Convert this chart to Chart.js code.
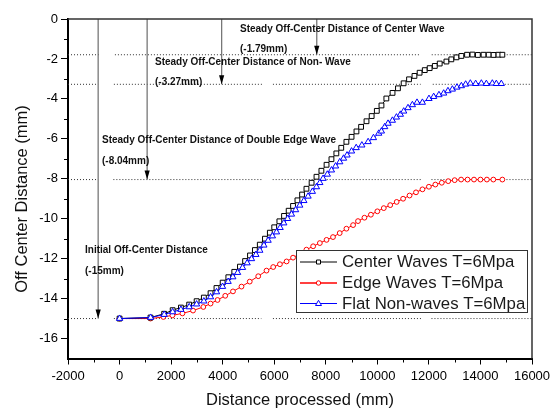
<!DOCTYPE html>
<html>
<head>
<meta charset="utf-8">
<script src="https://cdn.jsdelivr.net/npm/chart.js@4.4.1/dist/chart.umd.min.js"></script>
<style>
  html, body { margin: 0; padding: 0; background: #fff; }
  #wrap { width: 550px; height: 408px; }
</style>
</head>
<body>
<div id="wrap"><canvas id="chart" width="550" height="408"></canvas></div>
<script>
// values: x = distance processed (mm), y = off-centre distance (mm)
const centerX = [0, 1200, 1730, 2060, 2380, 2700, 2990, 3270, 3530, 3760, 4000, 4220, 4450, 4670, 4870, 5060, 5250, 5440, 5640, 5830, 6000, 6200, 6380, 6560, 6730, 6900, 7080, 7250, 7450, 7640, 7830, 8030, 8220, 8410, 8600, 8800, 9000, 9190, 9370, 9580, 9780, 9980, 10160, 10350, 10590, 10800, 11020, 11230, 11440, 11640, 11840, 12030, 12230, 12420, 12680, 12870, 13070, 13260, 13480, 13690, 13900, 14120, 14320, 14510, 14700, 14850];
const centerY = [-15.0, -14.95, -14.76, -14.58, -14.45, -14.3, -14.13, -13.95, -13.73, -13.47, -13.2, -12.93, -12.66, -12.4, -12.12, -11.84, -11.57, -11.3, -11.0, -10.7, -10.43, -10.13, -9.86, -9.6, -9.36, -9.08, -8.79, -8.5, -8.2, -7.9, -7.6, -7.3, -7.02, -6.73, -6.45, -6.15, -5.9, -5.63, -5.4, -5.12, -4.86, -4.6, -4.33, -3.98, -3.7, -3.47, -3.22, -3.02, -2.85, -2.69, -2.56, -2.46, -2.35, -2.23, -2.13, -2.02, -1.92, -1.85, -1.79, -1.78, -1.8, -1.79, -1.79, -1.8, -1.79, -1.79];

const edgeX = [0, 1200, 1700, 2050, 2440, 2850, 3250, 3530, 3800, 4100, 4400, 4730, 5050, 5380, 5700, 5960, 6220, 6480, 6730, 7000, 7250, 7510, 7770, 8030, 8280, 8540, 8800, 9060, 9250, 9500, 9750, 10000, 10250, 10500, 10750, 11000, 11250, 11500, 11750, 12000, 12250, 12500, 12750, 13000, 13250, 13500, 13750, 14000, 14250, 14500, 14850];
const edgeY = [-15.0, -15.0, -14.92, -14.84, -14.74, -14.6, -14.42, -14.25, -14.07, -13.86, -13.64, -13.4, -13.15, -12.88, -12.6, -12.42, -12.28, -12.14, -11.95, -11.75, -11.55, -11.38, -11.22, -11.06, -10.92, -10.72, -10.5, -10.32, -10.12, -9.95, -9.8, -9.63, -9.47, -9.32, -9.16, -9.0, -8.84, -8.68, -8.53, -8.4, -8.29, -8.2, -8.12, -8.07, -8.04, -8.04, -8.04, -8.04, -8.04, -8.04, -8.04];

const flatX = [0, 1205, 1733, 2058, 2380, 2702, 2988, 3271, 3531, 3763, 3996, 4213, 4395, 4580, 4771, 4950, 5120, 5290, 5442, 5600, 5764, 5930, 6089, 6230, 6372, 6520, 6670, 6830, 6992, 7150, 7314, 7480, 7639, 7770, 7895, 8060, 8221, 8380, 8543, 8690, 8826, 9000, 9180, 9400, 9643, 9850, 10055, 10159, 10287, 10415, 10585, 10740, 10895, 11023, 11190, 11360, 11539, 11748, 12004, 12186, 12391, 12574, 12740, 12911, 13089, 13260, 13426, 13608, 13814, 14035, 14229, 14461, 14616, 14810];
const flatY = [-15.0, -14.95, -14.8, -14.67, -14.55, -14.42, -14.28, -14.13, -13.92, -13.67, -13.4, -13.15, -12.92, -12.7, -12.45, -12.22, -12.01, -11.8, -11.59, -11.33, -11.09, -10.87, -10.67, -10.45, -10.22, -10.0, -9.78, -9.56, -9.33, -9.1, -8.88, -8.64, -8.41, -8.2, -7.99, -7.78, -7.57, -7.37, -7.16, -6.98, -6.82, -6.62, -6.45, -6.32, -6.15, -5.95, -5.73, -5.62, -5.4, -5.23, -5.08, -4.92, -4.78, -4.62, -4.45, -4.3, -4.18, -4.18, -3.99, -3.89, -3.8, -3.72, -3.6, -3.52, -3.42, -3.35, -3.27, -3.22, -3.24, -3.22, -3.24, -3.22, -3.24, -3.24];

const seriesNames = ['Center Waves T=6Mpa', 'Edge Waves T=6Mpa', 'Flat Non-waves T=6Mpa'];

// steady levels marked by dotted guides and arrows
const steadyLevels = [-1.79, -3.27, -8.04, -15];
const arrowX = [7650, 3960, 1070, -830];
const guideSegments = [
  [[-2000, -790], [-180, 11680], [12110, 16000]],
  [[-2000, -830], [-220, 5560], [5950, 11680], [12150, 16000]],
  [[-2000, -830], [-240, 5510], [5940, 11700], [12100, 16000]],
  [[-2000, -830], [-220, 5500], [5950, 11700], [12100, 16000]]
];

const xTicks = [-2000, 0, 2000, 4000, 6000, 8000, 10000, 12000, 14000, 16000];
const xMinor = [-1000, 1000, 3000, 5000, 7000, 9000, 11000, 13000, 15000];
const yTicks = [-16, -14, -12, -10, -8, -6, -4, -2, 0];
const yMinor = [-15, -13, -11, -9, -7, -5, -3, -1];

const FONT = "'Liberation Sans', Arial, sans-serif";

function pts(xs, ys) {
  return xs.map((x, i) => ({x: x, y: ys[i]}));
}

const datasets = [
  {
    label: seriesNames[0], data: pts(centerX, centerY),
    borderColor: '#000', backgroundColor: '#fff', borderWidth: 1,
    pointStyle: 'rect', pointRadius: 3.4, pointBorderWidth: 1, order: 1
  },
  {
    label: seriesNames[1], data: pts(edgeX, edgeY),
    borderColor: '#ff0000', backgroundColor: '#fff', borderWidth: 1,
    pointStyle: 'circle', pointRadius: 2.4, pointBorderWidth: 1, order: 2
  },
  {
    label: seriesNames[2], data: pts(flatX, flatY),
    borderColor: '#0000ff', backgroundColor: '#fff', borderWidth: 1,
    pointStyle: 'triangle', pointRadius: 3.6, pointBorderWidth: 1, order: 0
  }
];

// dotted guides at the steady levels
steadyLevels.forEach((lvl, k) => {
  const d = [];
  guideSegments[k].forEach(seg => {
    d.push({x: seg[0], y: lvl}, {x: seg[1], y: lvl}, {x: seg[1], y: null});
  });
  datasets.push({
    label: 'guide' + k, data: d, borderColor: '#333', borderWidth: 1,
    borderDash: [1, 2], pointRadius: 0, spanGaps: false, order: 10
  });
  datasets.push({
    label: 'arrow' + k, data: [{x: arrowX[k], y: 0}, {x: arrowX[k], y: lvl}],
    borderColor: '#777', borderWidth: 1.3, pointRadius: 0, order: 9
  });
});

const notes = [
  {text: 'Steady Off-Center Distance of Center Wave', x: 240, y: 29},
  {text: '(-1.79mm)', x: 240, y: 49},
  {text: 'Steady Off-Center Distance of Non- Wave', x: 155, y: 62},
  {text: '(-3.27mm)', x: 155, y: 82},
  {text: 'Steady Off-Center Distance of Double Edge Wave', x: 102, y: 140},
  {text: '(-8.04mm)', x: 102, y: 161},
  {text: 'Initial Off-Center Distance', x: 85, y: 250},
  {text: '(-15mm)', x: 85, y: 271}
];

const decorPlugin = {
  id: 'decor',
  afterDatasetsDraw(chart) {
    const ctx = chart.ctx;
    const xs = chart.scales.x, ys = chart.scales.y;
    const a = chart.chartArea;
    ctx.save();
    // arrow heads
    ctx.fillStyle = '#000';
    steadyLevels.forEach((lvl, k) => {
      const px = xs.getPixelForValue(arrowX[k]);
      const py = ys.getPixelForValue(lvl);
      ctx.beginPath();
      ctx.moveTo(px, py);
      ctx.lineTo(px - 2.6, py - 9);
      ctx.lineTo(px + 2.6, py - 9);
      ctx.closePath();
      ctx.fill();
    });
    // frame top + right
    ctx.strokeStyle = '#333';
    ctx.lineWidth = 1.5;
    ctx.beginPath();
    ctx.moveTo(a.left, a.top);
    ctx.lineTo(a.right, a.top);
    ctx.lineTo(a.right, a.bottom);
    ctx.stroke();
    // minor ticks
    ctx.strokeStyle = '#000';
    ctx.lineWidth = 1;
    xMinor.forEach(v => {
      const px = Math.round(xs.getPixelForValue(v)) + 0.5;
      ctx.beginPath();
      ctx.moveTo(px, a.bottom);
      ctx.lineTo(px, a.bottom + 4);
      ctx.stroke();
    });
    yMinor.forEach(v => {
      const py = Math.round(ys.getPixelForValue(v)) + 0.5;
      ctx.beginPath();
      ctx.moveTo(a.left, py);
      ctx.lineTo(a.left - 4, py);
      ctx.stroke();
    });
    // notes
    ctx.fillStyle = '#111';
    ctx.font = 'bold 10px ' + FONT;
    ctx.textAlign = 'left';
    ctx.textBaseline = 'middle';
    notes.forEach(n => ctx.fillText(n.text, n.x, n.y));
    // axis titles
    ctx.font = '16.5px ' + FONT;
    ctx.fillStyle = '#111';
    ctx.textAlign = 'center';
    ctx.fillText('Distance processed (mm)', (a.left + a.right) / 2, 400);
    ctx.translate(22, 199);
    ctx.rotate(-Math.PI / 2);
    ctx.fillText('Off Center Distance (mm)', 0, 0);
    ctx.restore();
  },
  afterDraw(chart) {
    const ctx = chart.ctx;
    ctx.save();
    const bx = 296, by = 250, bw = 231, bh = 62;
    ctx.fillStyle = '#fff';
    ctx.fillRect(bx, by, bw, bh);
    ctx.strokeStyle = '#333';
    ctx.lineWidth = 1;
    ctx.strokeRect(bx + 0.5, by + 0.5, bw, bh);
    const rows = [262, 283, 303.5];
    ctx.font = '16.8px ' + FONT;
    ctx.textBaseline = 'middle';
    ctx.textAlign = 'left';
    for (let i = 0; i < 3; i++) {
      const ds = chart.data.datasets[i];
      const y = rows[i];
      ctx.strokeStyle = ds.borderColor;
      ctx.lineWidth = i === 1 ? 1.5 : 1;
      ctx.beginPath();
      ctx.moveTo(300, y);
      ctx.lineTo(337, y);
      ctx.stroke();
      ctx.lineWidth = 1;
      ctx.fillStyle = '#fff';
      ctx.beginPath();
      if (i === 0) {
        ctx.rect(316.5, y - 2, 4, 4);
      } else if (i === 1) {
        ctx.arc(318.5, y, 2.2, 0, Math.PI * 2);
      } else {
        ctx.moveTo(318.5, y - 3.2);
        ctx.lineTo(321.5, y + 2);
        ctx.lineTo(315.5, y + 2);
        ctx.closePath();
      }
      ctx.fill();
      ctx.stroke();
      ctx.fillStyle = '#1a1a1a';
      ctx.fillText(ds.label, 342, y + 0.5);
    }
    ctx.restore();
  }
};

new Chart(document.getElementById('chart'), {
  type: 'line',
  data: {datasets: datasets},
  plugins: [decorPlugin],
  options: {
    responsive: false,
    animation: false,
    devicePixelRatio: 1,
    layout: {padding: {top: 19, right: 18, left: 0, bottom: 0}},
    plugins: {legend: {display: false}, tooltip: {enabled: false}},
    elements: {line: {tension: 0}},
    scales: {
      x: {
        type: 'linear', min: -2000, max: 16000,
        afterFit: s => { s.height = 49.5; s.paddingLeft = 0; s.paddingRight = 0; },
        afterBuildTicks: s => { s.ticks = xTicks.map(v => ({value: v})); },
        grid: {drawOnChartArea: false, tickLength: 6, tickColor: '#000', tickWidth: 1},
        border: {display: true, color: '#000', width: 2},
        ticks: {
          font: {family: FONT, size: 13}, color: '#000', padding: 4,
          maxRotation: 0, autoSkip: false, callback: v => String(v)
        }
      },
      y: {
        type: 'linear', min: -17, max: 0,
        afterFit: s => { s.width = 68; s.paddingTop = 0; s.paddingBottom = 0; },
        afterBuildTicks: s => { s.ticks = yTicks.map(v => ({value: v})); },
        grid: {drawOnChartArea: false, tickLength: 7, tickColor: '#000', tickWidth: 1},
        border: {display: true, color: '#000', width: 2},
        ticks: {font: {family: FONT, size: 13}, color: '#000', padding: 3, autoSkip: false, callback: v => String(v)}
      }
    }
  }
});
</script>
</body>
</html>
